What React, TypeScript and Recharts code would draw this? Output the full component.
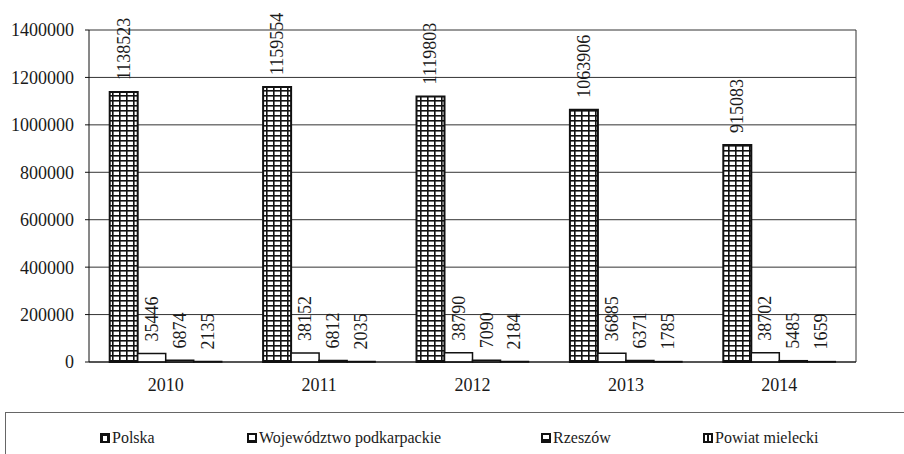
import React from "react";
import {
  Bar,
  BarChart,
  CartesianGrid,
  LabelList,
  XAxis,
  YAxis,
} from "recharts";

const years = ["2010", "2011", "2012", "2013", "2014"];
const polska = [1138523, 1159554, 1119803, 1063906, 915083];
const podkarpackie = [35446, 38152, 38790, 36885, 38702];
const rzeszow = [6874, 6812, 7090, 6371, 5485];
const mielecki = [2135, 2035, 2184, 1785, 1659];
const yTicks = [0, 200000, 400000, 600000, 800000, 1000000, 1200000, 1400000];

const seriesNames = [
  "Polska",
  "Województwo podkarpackie",
  "Rzeszów",
  "Powiat mielecki",
];

const data = years.map((year, i) => ({
  year,
  polska: polska[i],
  podkarpackie: podkarpackie[i],
  rzeszow: rzeszow[i],
  mielecki: mielecki[i],
}));

const FONT = "Liberation Serif";
const textStyle = { fontFamily: FONT };

// value labels are written upward, starting just above the bar
function VerticalLabel(props: any) {
  const { x, y, width, value } = props;
  const cx = x + width / 2;
  const ty = y - 12;
  return (
    <text
      x={cx}
      y={ty}
      transform={`rotate(-90, ${cx}, ${ty})`}
      textAnchor="start"
      dominantBaseline="central"
      style={textStyle}
      fontSize={18}
      fill="#1a1a1a"
    >
      {value}
    </text>
  );
}

function LegendIcon({ kind }: { kind: number }) {
  return (
    <svg width={10} height={10} style={{ marginRight: 2 }}>
      <rect x={0} y={0} width={10} height={10} fill="#111" />
      {kind === 0 && <rect x={3} y={3} width={4} height={5} fill="#fff" />}
      {kind === 1 && <rect x={2} y={2} width={6} height={5} fill="#fff" />}
      {kind === 2 && <rect x={2} y={2} width={6} height={4} fill="#fff" />}
      {kind === 3 && (
        <g fill="#fff">
          <rect x={2} y={2} width={2} height={6} />
          <rect x={6} y={2} width={2} height={6} />
        </g>
      )}
    </svg>
  );
}

const legendX = [100, 247, 541, 703];

export default function App() {
  return (
    <div
      style={{
        position: "absolute",
        left: 0,
        top: 0,
        width: 904,
        height: 454,
        background: "#fff",
        overflow: "hidden",
        fontFamily: FONT,
      }}
    >
      <BarChart
        width={904}
        height={400}
        data={data}
        margin={{ top: 30, right: 48, left: 0, bottom: 0 }}
        barCategoryGap="13.5%"
        barGap={0}
        style={textStyle}
      >
        <defs>
          <pattern
            id="grid"
            width={7}
            height={5}
            patternUnits="userSpaceOnUse"
          >
            <rect width={7} height={5} fill="#fff" />
            <rect x={0} y={0} width={1.6} height={5} fill="#111" />
            <rect x={0} y={0} width={7} height={1.6} fill="#111" />
          </pattern>
        </defs>
        <CartesianGrid
          stroke="#333"
          strokeWidth={1}
          verticalCoordinatesGenerator={({ offset }: any) => [
            offset.left + offset.width,
          ]}
        />
        <XAxis
          dataKey="year"
          height={38}
          axisLine={{ stroke: "#111" }}
          tickLine={false}
          tick={{ style: textStyle, fontSize: 18, fill: "#1a1a1a" }}
          tickMargin={10}
        />
        <YAxis
          width={89}
          domain={[0, 1400000]}
          ticks={yTicks}
          interval={0}
          axisLine={{ stroke: "#111" }}
          tickLine={{ stroke: "#111" }}
          tickSize={4}
          tickMargin={11}
          tick={{ style: textStyle, fontSize: 18, fill: "#1a1a1a" }}
        />
        <Bar
          dataKey="polska"
          name={seriesNames[0]}
          fill="url(#grid)"
          stroke="#111"
          strokeWidth={2}
          isAnimationActive={false}
        >
          <LabelList dataKey="polska" content={VerticalLabel} />
        </Bar>
        <Bar
          dataKey="podkarpackie"
          name={seriesNames[1]}
          fill="#fff"
          stroke="#111"
          strokeWidth={1.5}
          isAnimationActive={false}
        >
          <LabelList dataKey="podkarpackie" content={VerticalLabel} />
        </Bar>
        <Bar
          dataKey="rzeszow"
          name={seriesNames[2]}
          fill="#fff"
          stroke="#111"
          strokeWidth={1.5}
          isAnimationActive={false}
        >
          <LabelList dataKey="rzeszow" content={VerticalLabel} />
        </Bar>
        <Bar
          dataKey="mielecki"
          name={seriesNames[3]}
          fill="#111"
          stroke="#111"
          strokeWidth={1.5}
          isAnimationActive={false}
        >
          <LabelList dataKey="mielecki" content={VerticalLabel} />
        </Bar>
      </BarChart>
      <div
        style={{
          position: "absolute",
          left: 5,
          top: 412,
          width: 920,
          height: 60,
          borderTop: "1.5px solid #666",
          borderLeft: "1.5px solid #666",
        }}
      />
      {seriesNames.map((name, i) => (
        <div
          key={name}
          style={{
            position: "absolute",
            left: legendX[i],
            top: 429,
            display: "flex",
            alignItems: "center",
            fontFamily: FONT,
            fontSize: 16,
            color: "#1a1a1a",
            whiteSpace: "nowrap",
          }}
        >
          <LegendIcon kind={i} />
          <span style={textStyle}>{name}</span>
        </div>
      ))}
    </div>
  );
}
